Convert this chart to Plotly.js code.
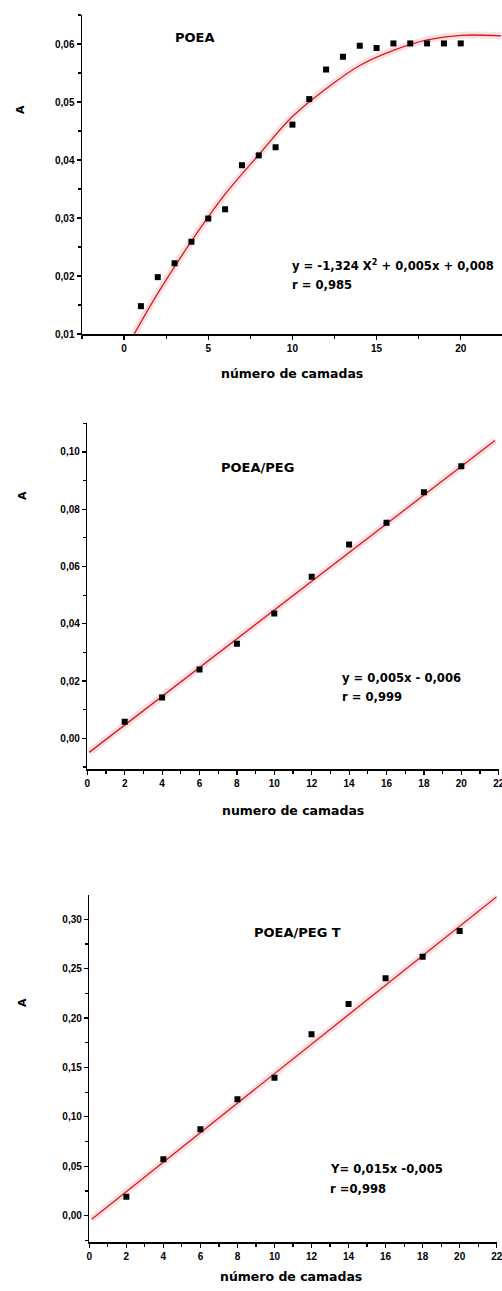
<!DOCTYPE html>
<html>
<head>
<meta charset="utf-8">
<script src="https://cdn.plot.ly/plotly-3.0.1.min.js"></script>
<style>html,body{margin:0;padding:0;background:#fff}#chart{width:502px;height:1291px}</style>
</head>
<body>
<div id="chart"></div>
<script>
// ---- Panel 1: POEA ----
const camadas1 = [1,2,3,4,5,6,7,8,9,10,11,12,13,14,15,16,17,18,19,20];
const absorb1  = [0.0148,0.0198,0.0222,0.0259,0.0299,0.0315,0.0391,0.0408,0.0422,0.0461,0.0505,0.0556,0.0578,0.0597,0.0593,0.0601,0.0601,0.0601,0.0601,0.0601];
const fitX1 = [0.6,2,4,6,8,10,12,14,16,18,20,22.4];
const fitY1 = [0.0100,0.0170,0.0260,0.0341,0.0409,0.0475,0.0523,0.0563,0.0589,0.0607,0.0615,0.0614];

// ---- Panel 2: POEA/PEG ----
const camadas2 = [2,4,6,8,10,12,14,16,18,20];
const absorb2  = [0.0058,0.0143,0.0240,0.0330,0.0436,0.0564,0.0677,0.0753,0.0859,0.0950];
const fitX2 = [0.1,21.8];
const fitY2 = [-0.0049,0.1040];

// ---- Panel 3: POEA/PEG T ----
const camadas3 = [2,4,6,8,10,12,14,16,18,20];
const absorb3  = [0.0192,0.0570,0.0874,0.1177,0.1397,0.1835,0.2142,0.2402,0.2621,0.2881];
const fitX3 = [0.13,22.0];
const fitY3 = [-0.0037,0.3229];

// ---- Texts ----
const sampleLabels = ["POEA","POEA/PEG","POEA/PEG T"];
const eqLabels = ["y = -1,324 X<sup>2</sup> + 0,005x + 0,008","y = 0,005x - 0,006","Y= 0,015x -0,005"];
const rLabels = ["r = 0,985","r = 0,999","r =0,998"];
const xTitles = ["número de camadas","numero de camadas","número de camadas"];
const yTitle = "A";

const W = 502, H = 1291;
const px = v => v / W;
const py = v => 1 - v / H;

const FONT = {family: "Liberation Sans, Arial, sans-serif", size: 10, color: "#000", weight: "bold"};
const RED = "#cc1f24";

function scatter(x, y, xa, ya) {
  return {x: x, y: y, xaxis: xa, yaxis: ya, type: "scatter", mode: "markers",
    marker: {symbol: "square", size: 6, color: "#000"}, hoverinfo: "skip"};
}
function glow(x, y, xa, ya, spline) {
  return {x: x, y: y, xaxis: xa, yaxis: ya, type: "scatter", mode: "lines",
    line: {color: "rgba(255,80,90,0.18)", width: 7, shape: spline ? "spline" : "linear"}, hoverinfo: "skip"};
}
function fit(x, y, xa, ya, spline) {
  return {x: x, y: y, xaxis: xa, yaxis: ya, type: "scatter", mode: "lines",
    line: {color: RED, width: 1.3, shape: spline ? "spline" : "linear"}, hoverinfo: "skip"};
}

const traces = [
  glow(fitX1, fitY1, "x", "y", true), fit(fitX1, fitY1, "x", "y", true), scatter(camadas1, absorb1, "x", "y"),
  glow(fitX2, fitY2, "x2", "y2", false), fit(fitX2, fitY2, "x2", "y2", false), scatter(camadas2, absorb2, "x2", "y2"),
  glow(fitX3, fitY3, "x3", "y3", false), fit(fitX3, fitY3, "x3", "y3", false), scatter(camadas3, absorb3, "x3", "y3")
];

function axis(extra) {
  return Object.assign({
    showline: true, linecolor: "#000", linewidth: 1.5, showgrid: false, zeroline: false,
    ticks: "outside", ticklen: 4, tickwidth: 1.2, tickcolor: "#000", mirror: false,
    tickfont: FONT, fixedrange: true, ticklabeloverflow: "allow"
  }, extra);
}

const layout = {
  width: W, height: H, margin: {l: 0, r: 0, t: 0, b: 0},
  paper_bgcolor: "#fff", plot_bgcolor: "#fff", showlegend: false, separators: ",.",
  xaxis: axis({domain: [px(82), 1], range: [-2.5, 22.45], anchor: "y", tick0: 0, dtick: 5,
    minor: {dtick: 2.5, ticks: "outside", ticklen: 3, tickcolor: "#000"}}),
  yaxis: axis({domain: [py(334), py(15)], range: [0.01, 0.065], anchor: "x", tick0: 0.01, dtick: 0.01, tickformat: ".2f",
    minor: {dtick: 0.005, ticks: "outside", ticklen: 3, tickcolor: "#000"}}),
  xaxis2: axis({domain: [px(87.3), px(498.7)], range: [0, 22], anchor: "y2", tick0: 0, dtick: 2,
    minor: {dtick: 1, ticks: "outside", ticklen: 3, tickcolor: "#000"}}),
  yaxis2: axis({domain: [py(769), py(423.3)], range: [-0.0107, 0.110], anchor: "x2", tick0: 0, dtick: 0.02, tickformat: ".2f",
    minor: {dtick: 0.01, ticks: "outside", ticklen: 3, tickcolor: "#000"}}),
  xaxis3: axis({domain: [px(89.3), px(496.7)], range: [0, 22], anchor: "y3", tick0: 0, dtick: 2,
    minor: {dtick: 1, ticks: "outside", ticklen: 3, tickcolor: "#000"}}),
  yaxis3: axis({domain: [py(1242.3), py(895)], range: [-0.027, 0.3246], anchor: "x3", tick0: 0, dtick: 0.05, tickformat: ".2f",
    minor: {dtick: 0.025, ticks: "outside", ticklen: 3, tickcolor: "#000"}}),
  annotations: []
};

const TXT = {family: "DejaVu Sans, Liberation Sans, sans-serif", size: 11.5, color: "#000", weight: "bold"};
function ann(text, x, y, xanchor, size, extra) {
  return Object.assign({text: text, xref: "paper", yref: "paper", x: px(x), y: py(y),
    xanchor: xanchor, yanchor: "middle", showarrow: false, font: Object.assign({}, TXT, {size: size})}, extra || {});
}

// Panel positions (pixels) for the texts
const pos = [
  {label: [195, 38], eq: [290, 265], r: [290, 285], xt: [292, 373], yt: [20, 110]},
  {label: [257, 467], eq: [340, 678], r: [340, 697], xt: [293, 811], yt: [23, 496]},
  {label: [297, 932], eq: [328, 1169], r: [328, 1189], xt: [291, 1276], yt: [22, 1003]}
];
pos.forEach((p, i) => {
  layout.annotations.push(ann(sampleLabels[i], p.label[0], p.label[1], "center", 13));
  layout.annotations.push(ann(eqLabels[i], p.eq[0], p.eq[1], "left", 11.6));
  layout.annotations.push(ann(rLabels[i], p.r[0], p.r[1], "left", 11.6));
  layout.annotations.push(ann(xTitles[i], p.xt[0], p.xt[1], "center", 12.5));
  layout.annotations.push(ann(yTitle, p.yt[0], p.yt[1], "center", 11, {textangle: -90}));
});

Plotly.newPlot("chart", traces, layout, {staticPlot: true, displayModeBar: false});
</script>
</body>
</html>
